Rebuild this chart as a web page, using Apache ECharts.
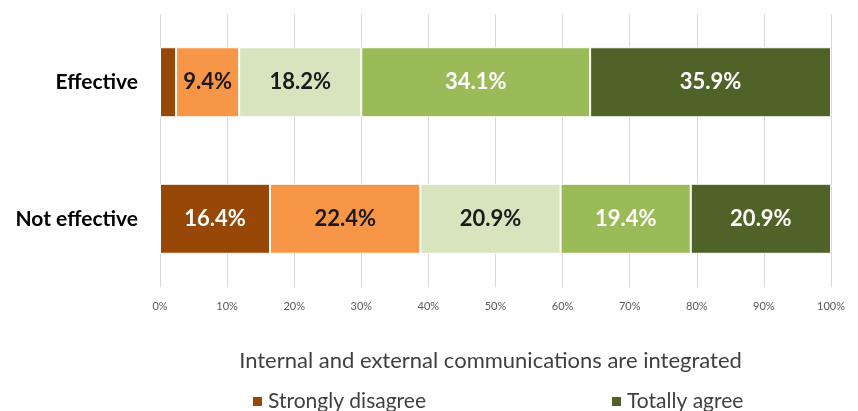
<!DOCTYPE html>
<html>
<head>
<meta charset="utf-8">
<script src="https://cdn.jsdelivr.net/npm/echarts@6/dist/echarts.min.js"></script>
<style>
  html, body { margin: 0; padding: 0; background: #fff; }
  #chart { width: 858px; height: 411px; }
</style>
</head>
<body>
<div id="chart"></div>
<script>
// Survey responses (percent of respondents) per group
const categories = ['Effective', 'Not effective'];
const stronglyDisagree = [2.4, 16.4];
const disagree = [9.4, 22.4];
const neutral = [18.2, 20.9];
const agree = [34.1, 19.4];
const totallyAgree = [35.9, 20.9];
const tickLabels = ['0%', '10%', '20%', '30%', '40%', '50%', '60%', '70%', '80%', '90%', '100%'];

const FONT = 'Lato, "Open Sans", sans-serif';

function seg(name, data, color, labelColor, showMin) {
  return {
    name: name,
    type: 'bar',
    stack: 'total',
    data: data,
    barWidth: 70,
    itemStyle: { color: color, borderColor: '#ffffff', borderWidth: 1 },
    label: {
      show: true,
      color: labelColor,
      fontFamily: FONT,
      fontWeight: 'bold',
      fontSize: 22,
      formatter: p => (p.value >= showMin ? p.value.toFixed(1) + '%' : '')
    }
  };
}

const chart = echarts.init(document.getElementById('chart'));
chart.setOption({
  animation: false,
  backgroundColor: '#ffffff',
  grid: { left: 160, right: 27, top: 14, bottom: 124, containLabel: false },
  xAxis: {
    type: 'value',
    min: 0,
    max: 100,
    interval: 10,
    axisLine: { show: false },
    axisTick: { show: false },
    splitLine: { show: true, lineStyle: { color: '#d9d9d9', width: 1 } },
    axisLabel: {
      color: '#595959',
      fontFamily: FONT,
      fontSize: 11,
      margin: 14,
      formatter: (v) => tickLabels[Math.round(v / 10)]
    },
    name: 'Internal and external communications are integrated',
    nameLocation: 'middle',
    nameGap: 63,
    nameTextStyle: { color: '#404040', fontFamily: FONT, fontSize: 22, padding: [0, 10, 0, 0] }
  },
  yAxis: {
    type: 'category',
    inverse: true,
    data: categories,
    axisLine: { show: false },
    axisTick: { show: false },
    axisLabel: {
      color: '#000000',
      fontFamily: FONT,
      fontWeight: 'bold',
      fontSize: 21,
      margin: 22
    }
  },
  legend: [
    {
      data: ['Strongly disagree'],
      left: 246,
      top: 386,
      itemWidth: 11,
      itemHeight: 11,
      itemGap: 8,
      icon: 'rect',
      textStyle: { color: '#404040', fontFamily: FONT, fontSize: 21 }
    },
    {
      data: ['Totally agree'],
      left: 605,
      top: 386,
      itemWidth: 11,
      itemHeight: 11,
      icon: 'rect',
      textStyle: { color: '#404040', fontFamily: FONT, fontSize: 21 }
    }
  ],
  series: [
    seg('Strongly disagree', stronglyDisagree, '#974706', '#ffffff', 5),
    seg('Disagree', disagree, '#F79646', '#1a1a1a', 5),
    seg('Neutral', neutral, '#D7E4BD', '#1a1a1a', 5),
    seg('Agree', agree, '#9BBB59', '#ffffff', 5),
    seg('Totally agree', totallyAgree, '#4F6228', '#ffffff', 5)
  ]
});
</script>
</body>
</html>
